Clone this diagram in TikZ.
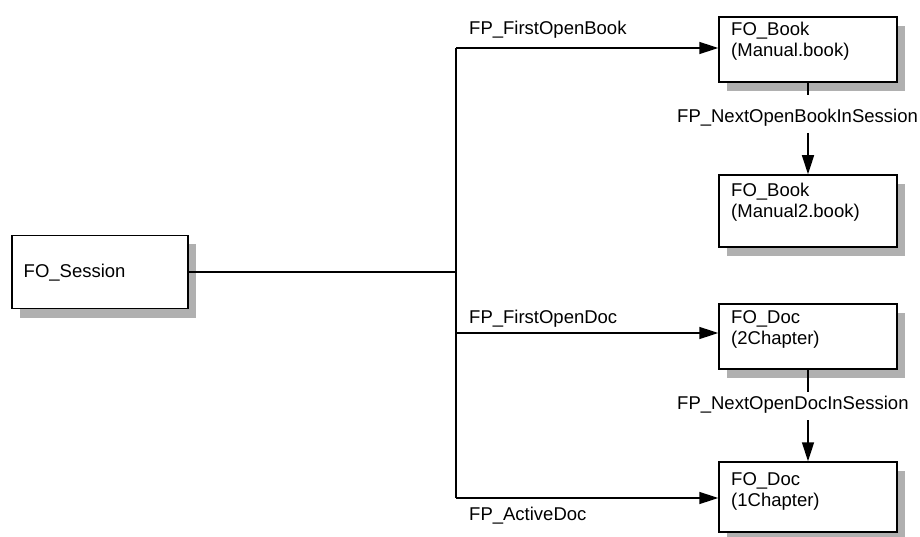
\documentclass[tikz,border=0pt]{standalone}
\usepackage{fontspec}
\setmainfont{Liberation Sans}
\usetikzlibrary{shadows,arrows.meta}
\definecolor{shadowgray}{HTML}{B0B0B0}
\begin{document}
\begin{tikzpicture}[x=1pt,y=-1pt,
  font=\fontsize{18.5}{21}\selectfont,
  objbox/.style={draw=black, line width=1.5pt, fill=white, inner sep=0pt,
    drop shadow={shadow xshift=8pt, shadow yshift=-9pt, fill=shadowgray, opacity=1}},
  txt/.style={anchor=base west, inner sep=0pt, align=left},
  conn/.style={line width=1.5pt},
  arr/.style={line width=1.5pt, -{Triangle[length=19pt,width=12pt]}}]
\useasboundingbox (0,0) rectangle (920,537);
% boxes
\node[objbox, minimum width=176pt, minimum height=73pt] (session) at (100,272) {};
\node[objbox, minimum width=178pt, minimum height=65pt] (book1) at (808,49.5) {};
\node[objbox, minimum width=178pt, minimum height=72pt] (book2) at (808,211) {};
\node[objbox, minimum width=178pt, minimum height=65pt] (doc1) at (808,336.5) {};
\node[objbox, minimum width=178pt, minimum height=70pt] (doc2) at (808,497) {};
% box texts
\node[txt] (tsession) at (23.5,277) {FO\_Session};
\node[txt] (tbook1a) at (731,36) {FO\_Book};
\node[txt] (tbook1b) at (731,57) {(Manual.book)};
\node[txt] (tbook2a) at (731,197) {FO\_Book};
\node[txt] (tbook2b) at (731,218) {(Manual2.book)};
\node[txt] (tdoc1a) at (731,323) {FO\_Doc};
\node[txt] (tdoc1b) at (731,344) {(2Chapter)};
\node[txt] (tdoc2a) at (731,485) {FO\_Doc};
\node[txt] (tdoc2b) at (731,506) {(1Chapter)};
% connector labels
\node[txt] (lfob) at (469,35) {FP\_FirstOpenBook};
\node[txt] (lfod) at (469,323) {FP\_FirstOpenDoc};
\node[txt] (lad) at (469,520) {FP\_ActiveDoc};
\node[txt] (lnob) at (677,123) {FP\_NextOpenBookInSession};
\node[txt] (lnod) at (677,409) {FP\_NextOpenDocInSession};
% trunk coordinates
\coordinate (ttop) at (456,48);
\coordinate (tmid) at (456,272);
\coordinate (tdoc) at (456,333);
\coordinate (tbot) at (456,498);
\coordinate (nb1) at (808,95);
\coordinate (nb2) at (808,133);
\coordinate (nd1) at (808,392);
\coordinate (nd2) at (808,420);
% connectors
\draw[conn] (session.east) -- (tmid);
\draw[conn] (ttop) -- (tbot);
\draw[arr] (ttop) -- (ttop -| book1.west);
\draw[arr] (tdoc) -- (tdoc -| doc1.west);
\draw[arr] (tbot) -- (tbot -| doc2.west);
\draw[conn] (book1.south) -- (nb1);
\draw[arr] (nb2) -- (book2.north);
\draw[conn] (doc1.south) -- (nd1);
\draw[arr] (nd2) -- (doc2.north);
\end{tikzpicture}
\end{document}
